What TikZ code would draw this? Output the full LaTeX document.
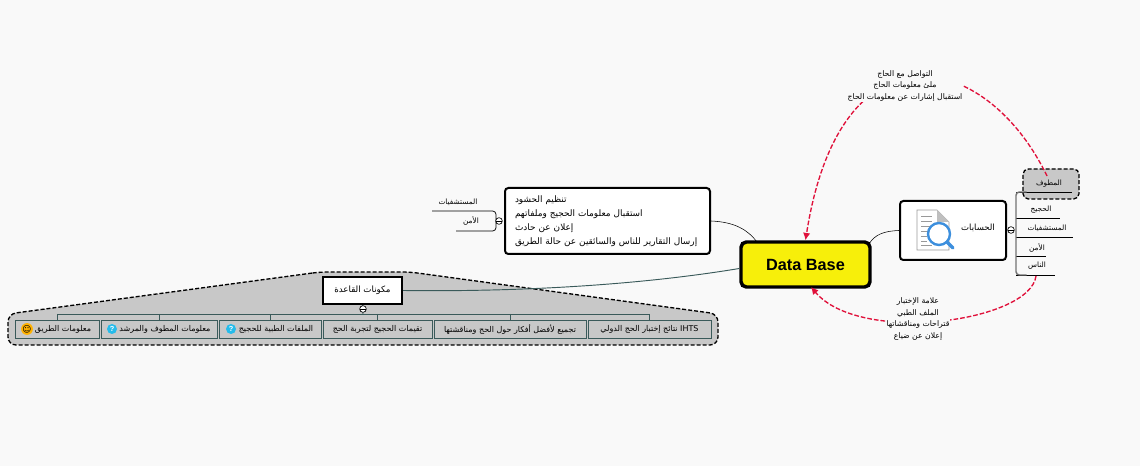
\documentclass[tikz,border=0pt]{standalone}
\usepackage{fontspec}
\setmainfont{Liberation Sans}
\newfontfamily\arabicfont[Script=Arabic]{DejaVu Sans}
\TeXXeTstate=1
\usetikzlibrary{arrows.meta}
\usetikzlibrary{positioning}
\definecolor{pagebg}{HTML}{F9F9F9}
\definecolor{groupgray}{HTML}{C8C8C8}
\definecolor{rootyellow}{HTML}{F7EF0A}
\definecolor{linkred}{HTML}{E0103A}
\definecolor{leafteal}{HTML}{3A5A5A}
\definecolor{iconblue}{HTML}{3D8FDD}
\newcommand{\ar}[1]{{\arabicfont\beginR #1\endR}}
\tikzset{
  % Common styles for the map
  >=latex,
  root/.style={draw=black, fill=rootyellow, line width=2.6pt, rounded corners=4pt, inner sep=0pt, font=\bfseries\fontsize{12.2}{14}\selectfont},
  topic/.style={draw=black, fill=white, line width=1.5pt, rounded corners=2.5pt, inner sep=0pt, font=\fontsize{6.7}{10.5}\selectfont},
  subject/.style={draw=black, fill=white, line width=1.8pt, inner sep=0pt, font=\fontsize{6.5}{8}\selectfont},
  leaf/.style={draw=leafteal, fill=groupgray, line width=0.7pt, inner sep=0pt, minimum height=18*0.75pt, font=\fontsize{6}{7}\selectfont},
  plain/.style={inner sep=0pt, font=\fontsize{5.5}{7}\selectfont},
  note/.style={inner sep=0.6pt, fill=pagebg, align=center, font=\fontsize{5.8}{8.7}\selectfont},
  hub/.style={draw=black, fill=white, circle, line width=0.5pt, minimum size=5pt, inner sep=0pt,
    path picture={\draw[line width=0.4pt] (path picture bounding box.west) -- (path picture bounding box.east);}},
  help/.style={circle, fill=iconblue!60!cyan, text=white, inner sep=0pt, minimum size=7.5pt, font=\bfseries\fontsize{5.5}{6}\selectfont},
  smile/.style={circle, fill=orange!60!yellow, inner sep=0pt, minimum size=7.5pt, font=\fontsize{6.5}{7}\selectfont},
  link/.style={draw=linkred, line width=1pt, dash pattern=on 3.5pt off 1.5pt, -{Latex[length=5.5pt,width=5.5pt]}},
  branch/.style={draw=black, line width=0.55pt},
  spine/.style={draw=black!55, line width=1.1pt, rounded corners=2.5pt},
  teal/.style={draw=leafteal, line width=0.7pt}
}
\begin{document}
\begin{tikzpicture}[x=0.75pt, y=-0.75pt]
    \useasboundingbox (0,0) rectangle (1140,466);
    \fill[pagebg] (0,0) rectangle (1140,466);

    % Grey group behind the base
    \draw[fill=groupgray, line width=1pt, dash pattern=on 3pt off 1.5pt, rounded corners=6pt]
      (320,272) -- (8,314) -- (8,345) -- (718,345) -- (718,314) -- (410,272) -- cycle;

    % Place nodes
    \node [root, minimum width=129*0.75pt, minimum height=45*0.75pt] (database) at (805.5,264.5) {Data Base};
    \node [topic, minimum width=205*0.75pt, minimum height=66*0.75pt, text width=185*0.75pt, align=left] (tasks) at (607.5,221) {%
      \ar{تنظيم الحشود}\\
      \ar{استقبال معلومات الحجيج وملفاتهم}\\
      \ar{إعلان عن حادث}\\
      \ar{إرسال التقارير للناس والسائقين عن حالة الطريق}};
    \node [subject, minimum width=79*0.75pt, minimum height=27*0.75pt] (components) at (362.5,290.5) {\ar{مكونات القاعدة}};
    \node [topic, minimum width=106*0.75pt, minimum height=59*0.75pt] (accounts) at (953,230.5) {};
    \node [plain, font=\fontsize{6.4}{8}\selectfont] (accountsText) at (978,228) {\ar{الحسابات}};
    \coordinate (databaseTopLeft) at (757,242);
    \coordinate (databaseTopRight) at (869,244);

    % Small nodes on the left of the tasks
    \node [plain] (hospitalsLeft) at (458,202) {\ar{المستشفيات}};
    \node [plain] (securityLeft) at (471,221) {\ar{الأمن}};
    \coordinate (hospitalsLeftEnd) at (432,211);
    \coordinate (securityLeftEnd) at (456,231);
    \coordinate (tasksSpine) at (496,221);

    % Small nodes on the right of the accounts
    \node [draw=black, fill=groupgray, dash pattern=on 3pt off 1.5pt, line width=1pt, rounded corners=4pt, minimum width=56*0.75pt, minimum height=30*0.75pt] (guidebox) at (1051,184) {};
    \node [plain] (guide) at (1049,184) {\ar{المطوف}};
    \node [plain] (pilgrims) at (1041,210) {\ar{الحجيج}};
    \node [plain] (hospitals) at (1047,228) {\ar{المستشفيات}};
    \node [plain] (security) at (1037,248) {\ar{الأمن}};
    \node [plain] (people) at (1037,266) {\ar{الناس}};
    \coordinate (spine) at (1016,230);
    \coordinate (guideEnd) at (1072,192);
    \coordinate (pilgrimsEnd) at (1060,218);
    \coordinate (hospitalsEnd) at (1073,237);
    \coordinate (securityEnd) at (1046,256);
    \coordinate (peopleEnd) at (1055,275);

    % Leaves of the base
    \node [leaf, minimum width=84*0.75pt] (road) at (57,329) {\hspace*{9pt}\ar{معلومات الطريق}};
    \node [leaf, minimum width=116*0.75pt] (guideInfo) at (159,329) {\hspace*{9pt}\ar{معلومات المطوف والمرشد}};
    \node [leaf, minimum width=102*0.75pt] (medical) at (270,329) {\hspace*{9pt}\ar{الملفات الطبية للحجيج}};
    \node [leaf, minimum width=109*0.75pt] (ratings) at (377.5,329) {\ar{تقيمات الحجيج لتجربة الحج}};
    \node [leaf, minimum width=152*0.75pt] (ideas) at (510,329) {\ar{تجميع لأفضل أفكار حول الحج ومناقشتها}};
    \node [leaf, minimum width=123*0.75pt] (results) at (649.5,329) {\ar{\beginL IHTS\endL{} نتائج إختبار الحج الدولي}};
    \coordinate (bus) at (363,314);
    \node [smile] (roadIcon) at (27,329) {\arabicfont ☺};
    \node [help] (guideIcon) at (112,329) {?};
    \node [help] (medicalIcon) at (231,329) {?};

    % Free ends of the links
    \coordinate (guideStart) at (1047,176);
    \coordinate (peopleStart) at (1036,276);
    \coordinate (databaseBottom) at (811,287);

    % Draw edges
    \draw (tasks.east) .. controls (735,222) and (748,230) .. (databaseTopLeft);
    \draw (accounts.west) .. controls (885,231) and (875,234) .. (databaseTopRight);
    \draw[teal] (components.east) .. controls (520,292) and (640,285) .. ([yshift=-3pt]database.west);
    \draw[teal] (components.south) -- (bus);
    \draw[teal] (road.north |- bus) -- (results.north |- bus);
    \draw[teal] (road.north |- bus) -- (road.north);
    \draw[teal] (guideInfo.north |- bus) -- (guideInfo.north);
    \draw[teal] (medical.north |- bus) -- (medical.north);
    \draw[teal] (ratings.north |- bus) -- (ratings.north);
    \draw[teal] (ideas.north |- bus) -- (ideas.north);
    \draw[teal] (results.north |- bus) -- (results.north);

    \draw[branch, rounded corners=2.5pt] (hospitalsLeftEnd) -| (tasksSpine) |- (securityLeftEnd);
    \draw[branch] (guideEnd -| spine) -- (guideEnd);
    \draw[branch] (pilgrimsEnd -| spine) -- (pilgrimsEnd);
    \draw[branch] (hospitalsEnd -| spine) -- (hospitalsEnd);
    \draw[branch] (securityEnd -| spine) -- (securityEnd);
    \draw[branch] (peopleEnd -| spine) -- (peopleEnd);
    \draw[spine] ([xshift=8pt]guideEnd -| spine) -- (guideEnd -| spine) -- (peopleEnd -| spine) -- ([xshift=8pt]peopleEnd -| spine);

    \node [hub] (tasksHub) at (499,221) {};
    \node [hub] (accountsHub) at (1011,230) {};
    \node [hub] (componentsHub) at (363,309) {};

    \path [link] (guideStart) .. controls (985,48) and (840,20) .. (database.north);
    \path [link] (peopleStart) .. controls (1030,322) and (860,345) .. (databaseBottom);

    \node [note] (guideNote) at (905,86) {\ar{التواصل مع الحاج}\\\ar{ملئ معلومات الحاج}\\\ar{استقبال إشارات عن معلومات الحاج}};
    \node [note] (peopleNote) at (918,319) {\ar{علامة الإختبار}\\\ar{الملف الطبي}\\\ar{قتراحات ومناقشاتها}\\\ar{إعلان عن ضياع}};

    % Icon of the accounts
    \draw[black!40, fill=white, line width=0.5pt] (917,210) -- (937,210) -- (949,222) -- (949,250) -- (917,250) -- cycle;
    \fill[black!25] (937,210) -- (949,222) -- (937,222) -- cycle;
    \draw[black!40, line width=0.6pt] (921,216) -- (932,216) (921,221) -- (932,221) (921,226) -- (930,226) (921,231) -- (928,231) (921,236) -- (927,236) (921,241) -- (927,241) (921,245) -- (932,245);
    \draw[iconblue, line width=1.8pt, fill=white] (939,234) circle (11);
    \draw[iconblue, line width=2.6pt, line cap=round] (947,242) -- (953,248);
\end{tikzpicture}
\end{document}
